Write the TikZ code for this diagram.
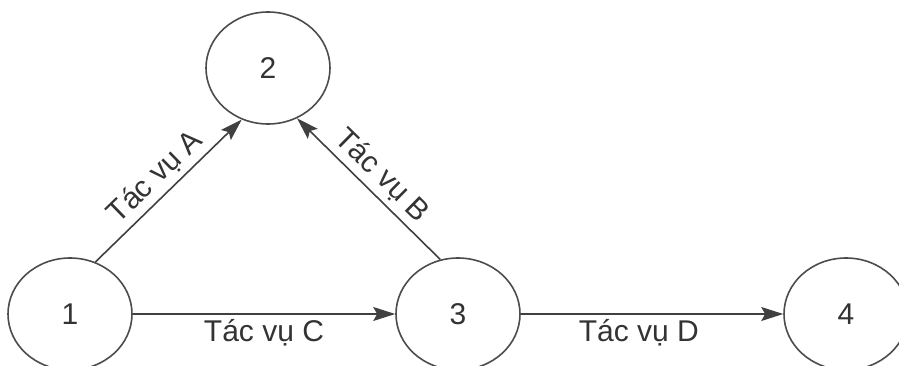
\documentclass[tikz,border=0pt]{standalone}
\usepackage{fontspec}
\setmainfont{Liberation Sans}
\usetikzlibrary{arrows.meta,shapes.geometric}

\begin{document}
\begin{tikzpicture}[->,>={Stealth[length=11pt,width=7pt,inset=2pt]},x=0.5pt,y=0.5pt,
                    node distance=194pt,draw=black!75,line width=0.8pt,
                    font=\fontsize{15}{18}\selectfont,
                    milestone/.style={ellipse,draw=black!70,minimum width=62pt,
                                      minimum height=56pt,inner sep=0pt,text=black!80},
                    task/.style={inner sep=2.5pt,text=black!80}]
  \useasboundingbox (0,0) rectangle (899,365);

  \node[milestone] (n1) at (70,51)  {1};
  \node[milestone] (n3) [right of=n1] {3};
  \node[milestone] (n4) [right of=n3] {4};
  \node[milestone] (n2) at (268,297) {2};

  \path (n1.64)  edge node[task,sloped,above] {Tác vụ A} (n2.243)
        (n1)     edge node[task,below] {Tác vụ C} (n3)
        (n3.108) edge node[task,sloped,above] {Tác vụ B} (n2.300)
        (n3)     edge node[task,below,pos=0.45] {Tác vụ D} (n4);
\end{tikzpicture}
\end{document}
